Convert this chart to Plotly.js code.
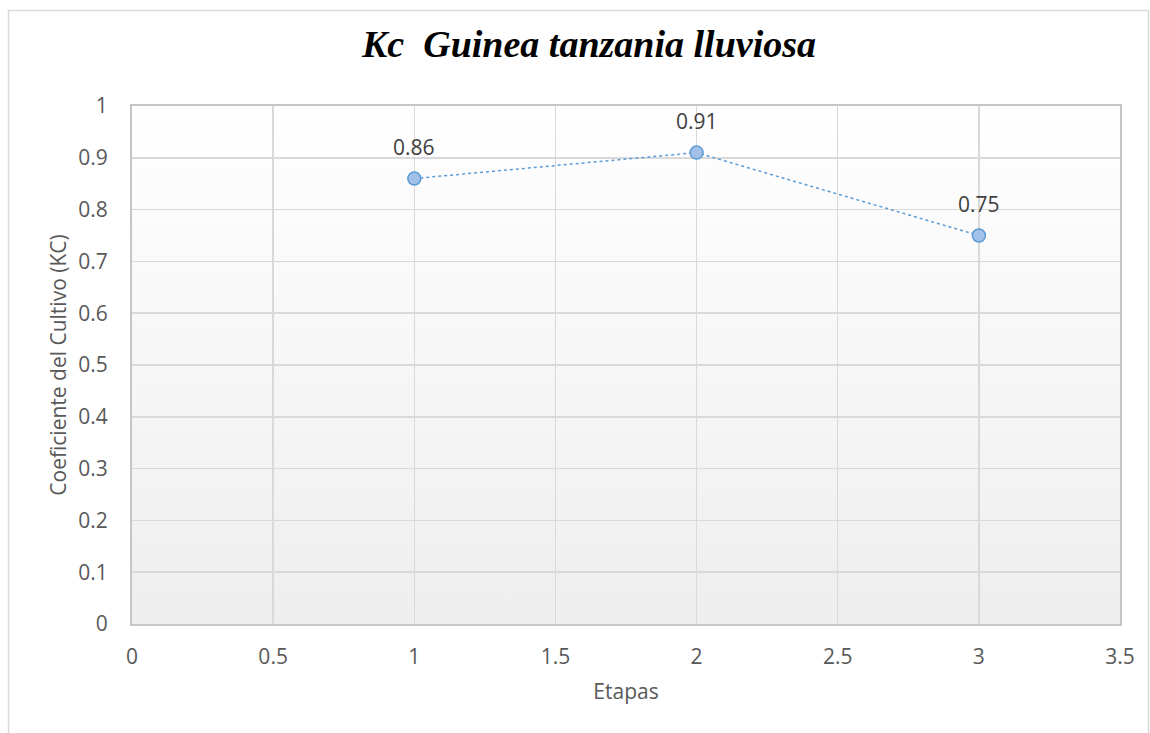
<!DOCTYPE html>
<html>
<head>
<meta charset="utf-8">
<script src="https://cdn.plot.ly/plotly-3.0.1.min.js"></script>
<style>html,body{margin:0;padding:0;background:#fff;}#chart{width:1150px;height:733px;}</style>
</head>
<body>
<div id="chart"></div>
<script>
// Data
const etapas = [1, 2, 3];
const kcValues = [0.86, 0.91, 0.75];
const kcLabels = ['0.86', '0.91', '0.75'];
const chartTitle = 'Kc\u00a0 Guinea tanzania lluviosa';
const xTitle = 'Etapas';
const yTitle = 'Coeficiente del Cultivo (KC)';

const W = 1150, H = 733;
const ml = 132, mr = 30, mt = 106, mb = 109;
const pw = W - ml - mr, ph = H - mt - mb;

const gradSvg = '<svg xmlns="http://www.w3.org/2000/svg" width="10" height="100" preserveAspectRatio="none"><defs><linearGradient id="g" x1="0" y1="0" x2="0" y2="1"><stop offset="0" stop-color="#ffffff"/><stop offset="1" stop-color="#eeeeee"/></linearGradient></defs><rect width="10" height="100" fill="url(#g)"/></svg>';
const gradUri = 'data:image/svg+xml;base64,' + btoa(gradSvg);

const trace = {
  x: etapas,
  y: kcValues,
  type: 'scatter',
  mode: 'lines+markers',
  line: {color: '#5b9bd5', width: 1.5, dash: 'dot'},
  marker: {size: 13, color: '#a3c1e8', line: {color: '#5b9bd5', width: 1.5}},
  hoverinfo: 'x+y',
  showlegend: false
};

const annotations = etapas.map((x, i) => ({
  x: x, y: kcValues[i], xref: 'x', yref: 'y',
  text: kcLabels[i], showarrow: false, yshift: 32,
  font: {family: 'Open Sans, sans-serif', size: 21, color: '#404040'}
}));

const layout = {
  width: W, height: H,
  margin: {l: ml, r: mr, t: mt, b: mb, pad: 0},
  paper_bgcolor: '#ffffff',
  plot_bgcolor: 'rgba(0,0,0,0)',
  font: {family: 'Open Sans, sans-serif', color: '#595959'},
  title: {
    text: '<b><i>' + chartTitle + '</i></b>',
    font: {family: 'Liberation Serif, Times New Roman, serif', size: 38, color: '#000000'},
    xref: 'container', x: 589 / W, xanchor: 'center',
    yref: 'container', y: 1 - 44 / H, yanchor: 'middle'
  },
  xaxis: {
    range: [0, 3.5], dtick: 0.5, tick0: 0,
    showgrid: true, gridcolor: '#d9d9d9', gridwidth: 1.5,
    zeroline: false, showline: true, linecolor: '#c6c6c6', linewidth: 2, mirror: true,
    ticks: '', ticklabelstandoff: 13,
    tickfont: {family: 'Open Sans, sans-serif', size: 21, color: '#595959'},
    title: {text: xTitle, font: {family: 'Open Sans, sans-serif', size: 21, color: '#595959'}, standoff: 15},
    fixedrange: true
  },
  yaxis: {
    range: [0, 1], dtick: 0.1, tick0: 0,
    showgrid: true, gridcolor: '#d9d9d9', gridwidth: 1.5,
    zeroline: false, showline: true, linecolor: '#c6c6c6', linewidth: 2, mirror: true,
    ticks: '', ticklabelstandoff: 18,
    tickfont: {family: 'Open Sans, sans-serif', size: 21, color: '#595959'},
    title: {text: yTitle, font: {family: 'Open Sans, sans-serif', size: 21, color: '#595959'}, standoff: 6},
    fixedrange: true
  },
  images: [{
    source: gradUri, xref: 'paper', yref: 'paper',
    x: 0, y: 1, sizex: 1, sizey: 1, sizing: 'stretch',
    xanchor: 'left', yanchor: 'top', layer: 'below'
  }],
  shapes: [{
    type: 'rect', xref: 'paper', yref: 'paper',
    x0: (8.5 - ml) / pw, x1: (1148.5 - ml) / pw,
    y0: -0.4, y1: (H - mb - 10.5) / ph,
    line: {color: '#d9d9d9', width: 1.5}, fillcolor: 'rgba(0,0,0,0)', layer: 'below'
  }],
  annotations: annotations
};

Plotly.newPlot('chart', [trace], layout, {displayModeBar: false, staticPlot: true});
</script>
</body>
</html>
